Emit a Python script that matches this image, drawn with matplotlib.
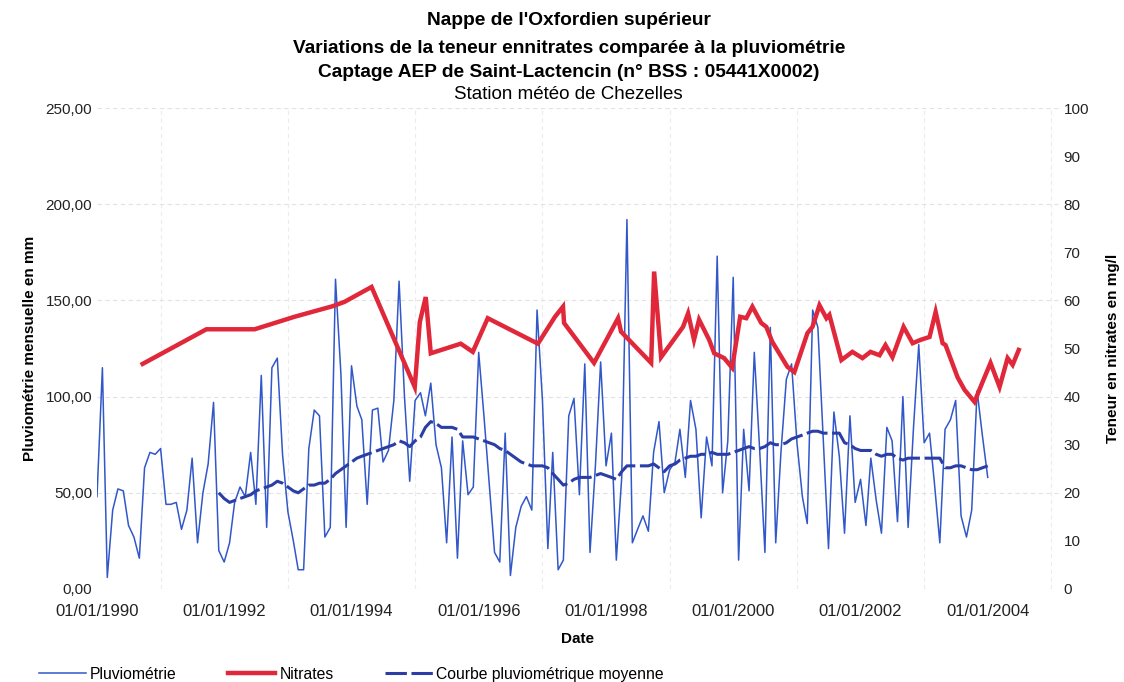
import matplotlib
matplotlib.use('Agg')
import matplotlib.pyplot as plt
import matplotlib.dates as mdates
import matplotlib.ticker as mticker
import pandas as pd

plt.rcParams['font.family'] = ['Liberation Sans', 'DejaVu Sans']

# ---------------- data ----------------
pluvio_start = '1990-01-01'
pluvio = [
    48, 115, 6, 41, 52, 51, 33, 27, 16, 63, 71, 70,        # 1990
    73, 44, 44, 45, 31, 41, 68, 24, 50, 65, 97, 20,        # 1991
    14, 24, 45, 53, 48, 71, 44, 111, 32, 115, 120, 70,     # 1992
    40, 25, 10, 10, 73, 93, 90, 27, 32, 161, 112, 32,      # 1993
    116, 95, 88, 44, 93, 94, 66, 72, 98, 160, 100, 56,     # 1994
    98, 102, 90, 107, 75, 63, 24, 79, 16, 77, 49, 53,      # 1995
    123, 89, 55, 19, 14, 81, 7, 32, 43, 48, 41, 145,       # 1996
    98, 21, 71, 10, 15, 90, 99, 49, 117, 19, 64, 118,      # 1997
    64, 81, 15, 58, 192, 24, 31, 38, 30, 71, 87, 50,       # 1998
    62, 66, 83, 58, 98, 83, 37, 79, 64, 173, 50, 77,       # 1999
    162, 15, 83, 51, 123, 72, 19, 136, 24, 71, 109, 117,   # 2000
    76, 48, 34, 145, 136, 77, 21, 92, 69, 29, 90, 45,      # 2001
    57, 33, 68, 46, 29, 84, 77, 35, 100, 32, 84, 127,      # 2002
    76, 81, 55, 24, 83, 88, 98, 38, 27, 41, 103, 80,       # 2003
    58,                                                    # 2004
]

moyenne_start = '1991-12-01'
moyenne = [
    50,
    47, 45, 46, 47, 48, 49, 51, 52, 53, 54, 56, 55,        # 1992
    53, 51, 50, 52, 54, 54, 55, 55, 57, 60, 62, 64,        # 1993
    66, 68, 69, 70, 71, 72, 73, 74, 75, 77, 76, 74,        # 1994
    77, 79, 84, 87, 86, 84, 84, 84, 83, 79, 79, 79,        # 1995
    78, 77, 76, 75, 73, 72, 70, 68, 66, 65, 64, 64,        # 1996
    64, 63, 60, 57, 54, 55, 57, 58, 58, 58, 59, 60,        # 1997
    59, 58, 57, 61, 64, 64, 64, 64, 64, 65, 63, 61,        # 1998
    64, 65, 67, 68, 69, 69, 70, 70, 71, 70, 70, 70,        # 1999
    71, 72, 73, 74, 73, 73, 74, 76, 75, 75, 76, 78,        # 2000
    79, 80, 81, 82, 82, 81, 81, 81, 81, 76, 75, 73,        # 2001
    72, 72, 72, 70, 69, 70, 70, 68, 67, 68, 68, 68,        # 2002
    68, 68, 68, 68, 63, 63, 64, 64, 63, 62, 62, 63,        # 2003
    64,
]

nitrate_dates = [
    '1990-09-20', '1991-09-21', '1992-06-24', '1993-02-08', '1993-09-15',
    '1993-11-22', '1994-04-26', '1994-12-30', '1995-01-28', '1995-03-03',
    '1995-04-01', '1995-09-20', '1995-11-28', '1996-02-22', '1996-12-06',
    '1997-03-14', '1997-04-29', '1997-05-05', '1997-10-24', '1998-03-11',
    '1998-03-28', '1998-09-17', '1998-10-04', '1998-11-13', '1999-03-19',
    '1999-04-17', '1999-05-21', '1999-06-19', '1999-08-16', '1999-09-14',
    '1999-11-10', '1999-12-26', '2000-02-10', '2000-03-16', '2000-04-20',
    '2000-06-10', '2000-07-09', '2000-08-12', '2000-11-07', '2000-12-17',
    '2001-03-02', '2001-03-31', '2001-05-10', '2001-06-19', '2001-07-06',
    '2001-09-13', '2001-11-15', '2002-01-12', '2002-02-27', '2002-04-20',
    '2002-05-24', '2002-07-03', '2002-09-05', '2002-10-27', '2002-12-12',
    '2003-02-01', '2003-03-08', '2003-04-17', '2003-05-04', '2003-07-12',
    '2003-08-21', '2003-10-17', '2003-12-02', '2004-01-17', '2004-03-09',
    '2004-04-24', '2004-05-23', '2004-06-27',
]
nitrates = [
    46.8, 54.0, 54.0, 56.6, 58.8,
    59.7, 62.8, 42.0, 55.5, 60.7,
    49.0, 51.0, 49.3, 56.3, 51.0,
    56.6, 58.7, 55.3, 47.0, 56.3,
    53.5, 47.0, 66.0, 48.2, 54.5,
    57.3, 51.8, 56.0, 51.8, 49.0,
    48.0, 46.0, 56.6, 56.3, 58.7,
    55.3, 54.5, 51.4, 46.2, 45.1,
    53.2, 54.5, 59.0, 56.3, 57.0,
    47.6, 49.3, 48.0, 49.3, 48.6,
    50.7, 48.2, 54.5, 51.1, 51.8,
    52.4, 57.6, 51.1, 50.7, 44.0,
    41.4, 38.9, 43.0, 47.0, 42.0,
    48.0, 46.6, 49.7,
]

x_tick_years = [1990, 1992, 1994, 1996, 1998, 2000, 2002, 2004]

title_lines = [
    "Nappe de l'Oxfordien supérieur",
    "Variations de la teneur ennitrates comparée à la pluviométrie",
    "Captage AEP de Saint-Lactencin (n° BSS : 05441X0002)",
]
subtitle = "Station météo de Chezelles"

# ---------------- figure ----------------
fig = plt.figure(figsize=(11.24, 6.82), dpi=100)
ax = fig.add_axes([0.0863, 0.1364, 0.8557, 0.7052])
ax2 = ax.twinx()

pl_dates = pd.date_range(pluvio_start, periods=len(pluvio), freq='MS')
mo_dates = pd.date_range(moyenne_start, periods=len(moyenne), freq='MS')
ni_dates = pd.to_datetime(nitrate_dates)

c_pl = '#3157c9'
c_ni = '#e0283a'
c_mo = '#2a3ea6'

l1, = ax.plot(pl_dates, pluvio, color=c_pl, lw=1.1, label='Pluviométrie', zorder=3)
l3, = ax.plot(mo_dates, moyenne, color=c_mo, lw=2.2, ls=(0, (7, 1.5)),
              label='Courbe pluviométrique moyenne', zorder=4)
l2, = ax2.plot(ni_dates, nitrates, color=c_ni, lw=3.2, label='Nitrates',
               solid_joinstyle='miter', zorder=5)

ax.set_ylim(0, 250)
ax2.set_ylim(0, 100)
ax.set_yticks([0, 50, 100, 150, 200, 250])
ax.yaxis.set_major_formatter(mticker.FuncFormatter(lambda v, p: f"{v:.2f}".replace('.', ',')))
ax2.set_yticks(range(0, 101, 10))

ax.set_xlim(pd.Timestamp('1990-01-01'), pd.Timestamp('2005-02-12'))
ax.set_xticks([pd.Timestamp(f'{y}-01-01') for y in x_tick_years])
ax.xaxis.set_major_formatter(mdates.DateFormatter('%d/%m/%Y'))
ax.set_xticks([pd.Timestamp(f'{y}-01-01') for y in range(1990, 2006)], minor=True)

for a in (ax, ax2):
    for s in a.spines.values():
        s.set_visible(False)
    a.tick_params(which='both', length=0, labelsize=11, colors='#222222')
ax.tick_params(axis='x', pad=11, labelsize=12)

ax.grid(True, axis='y', which='major', color='#e2e2e2', lw=0.8, ls=(0, (4, 3)))
ax.grid(True, axis='x', which='minor', color='#ececec', lw=0.8, ls=(0, (4, 3)))
ax.set_axisbelow(True)

ax.set_ylabel('Pluviométrie mensuelle en mm', fontsize=11, fontweight='bold', labelpad=6)
ax2.set_ylabel('Teneur en nitrates en mg/l', fontsize=11, fontweight='bold', labelpad=12,
               rotation=90)
ax.set_xlabel('Date', fontsize=11, fontweight='bold', labelpad=9)

ys = [0.982, 0.942, 0.906]
for t, y in zip(title_lines, ys):
    fig.text(0.506, y, t, ha='center', va='top', fontsize=13.8, fontweight='bold')
fig.text(0.506, 0.874, subtitle, ha='center', va='top', fontsize=13.5)

fig.legend(handles=[l1, l2, l3], loc='lower left', bbox_to_anchor=(0.022, -0.02),
           ncol=3, frameon=False, fontsize=11.3, handlelength=3.0, columnspacing=3.3,
           handletextpad=0.25)

fig.savefig('out.png', dpi=100, facecolor='white')
